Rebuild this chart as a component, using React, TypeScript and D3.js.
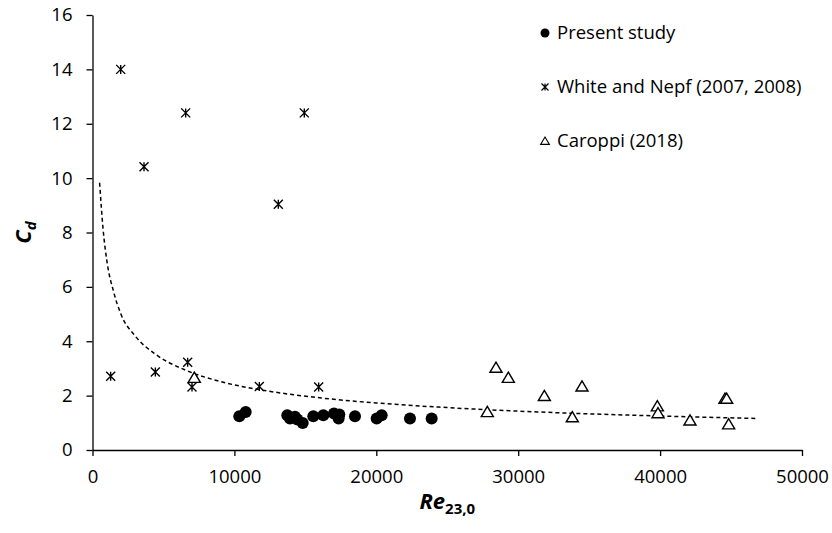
import React, { useRef, useEffect } from 'react';
import * as d3 from 'd3';

// Re23,0 vs Cd
const presentStudy: [number, number][] = [
  [10345, 1.24], [10796, 1.4], [13728, 1.28], [13918, 1.16], [14270, 1.22],
  [14434, 1.12], [14812, 0.99], [15560, 1.24], [16265, 1.28], [17018, 1.34],
  [17392, 1.31], [17346, 1.16], [18498, 1.24], [20025, 1.16], [20379, 1.28],
  [22374, 1.16], [23900, 1.16],
];

const whiteNepf: [number, number][] = [
  [1987, 14.0], [3630, 10.42], [6566, 12.4], [14926, 12.4], [13095, 9.04],
  [1280, 2.71], [4428, 2.87], [6706, 3.23], [7012, 2.32], [11757, 2.34],
  [15938, 2.32],
];

const caroppi: [number, number][] = [
  [7175, 2.66], [27823, 1.4], [28435, 3.03], [29305, 2.66], [31843, 1.99],
  [33812, 1.21], [34496, 2.34], [39805, 1.61], [39852, 1.36], [42106, 1.09],
  [44572, 1.89], [44690, 1.89], [44830, 0.95],
];

// dashed trend line
const trend: [number, number][] = [
  [500, 9.83], [750, 8.1], [1000, 7.0], [1500, 5.8], [2000, 5.0], [3000, 4.2],
  [4500, 3.5], [6500, 2.95], [9000, 2.52], [12000, 2.2], [16000, 1.92],
  [20000, 1.73], [25000, 1.56], [30000, 1.43], [35000, 1.33], [40000, 1.25],
  [46800, 1.16],
];

const xTicks = [0, 10000, 20000, 30000, 40000, 50000];
const yTicks = [0, 2, 4, 6, 8, 10, 12, 14, 16];
const legendLabels = ['Present study', 'White and Nepf (2007, 2008)', 'Caroppi (2018)'];

const FONT = '"Open Sans", sans-serif';

const starPath = (h: number) =>
  `M${-h},${-h}L${h},${h}M${-h},${h}L${h},${-h}M0,${-h}L0,${h}`;
const triPath = (h: number) => `M0,${-h}L${h * 1.1},${h * 0.85}L${-h * 1.1},${h * 0.85}Z`;

const App = () => {
  const ref = useRef<SVGSVGElement | null>(null);
  const W = 832;
  const H = 533;
  const margin = { top: 15, right: 30, bottom: 83, left: 92.5 };

  useEffect(() => {
    if (!ref.current) return;
    const svg = d3.select(ref.current);
    svg.selectAll('*').remove();

    const x = d3.scaleLinear().domain([0, 50000]).range([margin.left, W - margin.right]);
    const y = d3.scaleLinear().domain([0, 16]).range([H - margin.bottom, margin.top]);

    const xAxis = d3.axisBottom(x).tickValues(xTicks).tickSize(6).tickSizeOuter(0).tickFormat(d3.format('d'));
    const yAxis = d3.axisLeft(y).tickValues(yTicks).tickSize(6).tickSizeOuter(0).tickFormat(d3.format('d'));

    svg
      .append('g')
      .attr('transform', `translate(0,${y(0)})`)
      .call(xAxis)
      .call((g) => g.selectAll('path, line').attr('stroke', '#000').attr('stroke-width', 1.3))
      .call((g) =>
        g.selectAll('text').attr('font-family', FONT).attr('font-size', 18.5).attr('fill', '#000').attr('dy', '1.3em'),
      );

    svg
      .append('g')
      .attr('transform', `translate(${x(0)},0)`)
      .call(yAxis)
      .call((g) => g.selectAll('path, line').attr('stroke', '#000').attr('stroke-width', 1.3))
      .call((g) =>
        g.selectAll('text').attr('font-family', FONT).attr('font-size', 18.5).attr('fill', '#000').attr('x', -20),
      );

    // trend line
    const line = d3
      .line<[number, number]>()
      .x((d) => x(d[0]))
      .y((d) => y(d[1]))
      .curve(d3.curveMonotoneX);
    svg
      .append('path')
      .datum(trend)
      .attr('d', line)
      .attr('fill', 'none')
      .attr('stroke', '#000')
      .attr('stroke-width', 1.5)
      .attr('stroke-dasharray', '4 3');

    // present study
    svg
      .append('g')
      .selectAll('circle')
      .data(presentStudy)
      .join('circle')
      .attr('cx', (d) => x(d[0]))
      .attr('cy', (d) => y(d[1]))
      .attr('r', 6)
      .attr('fill', '#000');

    // White and Nepf
    svg
      .append('g')
      .selectAll('path')
      .data(whiteNepf)
      .join('path')
      .attr('transform', (d) => `translate(${x(d[0])},${y(d[1])})`)
      .attr('d', starPath(4.5))
      .attr('fill', 'none')
      .attr('stroke', '#000')
      .attr('stroke-width', 1.4);

    // Caroppi
    svg
      .append('g')
      .selectAll('path')
      .data(caroppi)
      .join('path')
      .attr('transform', (d) => `translate(${x(d[0])},${y(d[1])})`)
      .attr('d', triPath(5.5))
      .attr('fill', '#fff')
      .attr('stroke', '#000')
      .attr('stroke-width', 1.4);

    // legend
    const leg = svg.append('g').attr('transform', 'translate(545,0)');
    const rows = [33, 87, 141];
    leg.append('circle').attr('cx', 0).attr('cy', rows[0]).attr('r', 4.5).attr('fill', '#000');
    leg
      .append('path')
      .attr('transform', `translate(0,${rows[1]})`)
      .attr('d', starPath(3.5))
      .attr('stroke', '#000')
      .attr('stroke-width', 1.2);
    leg
      .append('path')
      .attr('transform', `translate(0,${rows[2]})`)
      .attr('d', triPath(4))
      .attr('fill', '#fff')
      .attr('stroke', '#000')
      .attr('stroke-width', 1.1);
    leg
      .selectAll('text')
      .data(legendLabels)
      .join('text')
      .attr('x', 12)
      .attr('y', (_, i) => rows[i])
      .attr('dy', '0.35em')
      .attr('font-family', FONT)
      .attr('font-size', 18.5)
      .attr('fill', '#000')
      .text((d) => d);

    // axis titles
    const xt = svg
      .append('text')
      .attr('x', (x(0) + x(50000)) / 2)
      .attr('y', 509)
      .attr('text-anchor', 'middle')
      .attr('font-family', FONT)
      .attr('font-weight', 'bold')
      .attr('fill', '#000');
    xt.append('tspan').attr('font-size', 22).attr('font-style', 'italic').text('Re');
    xt.append('tspan').attr('font-size', 15).attr('dy', 5).text('23,0');

    const yt = svg
      .append('text')
      .attr('transform', `translate(31,${y(8)}) rotate(-90)`)
      .attr('text-anchor', 'middle')
      .attr('font-family', FONT)
      .attr('font-weight', 'bold')
      .attr('font-style', 'italic')
      .attr('fill', '#000');
    yt.append('tspan').attr('font-size', 22).text('C');
    yt.append('tspan').attr('font-size', 15).attr('dy', 5).text('d');
  }, []);

  return (
    <svg
      ref={ref}
      width={W}
      height={H}
      style={{ position: 'absolute', left: 0, top: 0, background: '#fff' }}
    />
  );
};

export default App;
